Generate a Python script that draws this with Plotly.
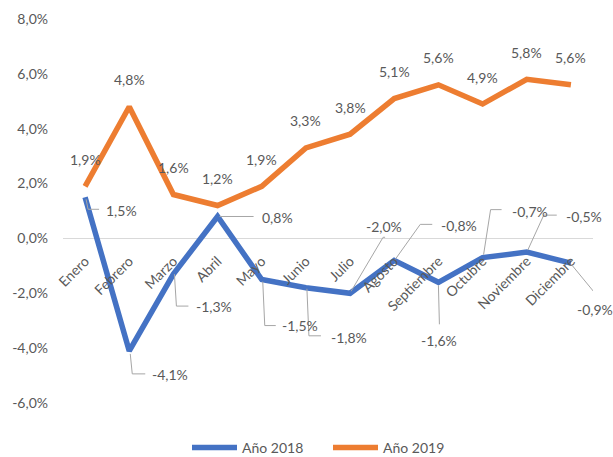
import plotly.graph_objects as go

months = ["Enero", "Febrero", "Marzo", "Abril", "Mayo", "Junio", "Julio",
          "Agosto", "Septiembre", "Octubre", "Noviembre", "Diciembre"]
y2018 = [1.5, -4.1, -1.3, 0.8, -1.5, -1.8, -2.0, -0.8, -1.6, -0.7, -0.5, -0.9]
y2019 = [1.9, 4.8, 1.6, 1.2, 1.9, 3.3, 3.8, 5.1, 5.6, 4.9, 5.8, 5.6]
ytick_vals = [-6, -4, -2, 0, 2, 4, 6, 8]

# style: label offsets (screen px, y down) and leader line paths for 2018 labels
lab18_off = [(36, 13), (41, 24), (41, 32), (60, 1), (38, 46), (43, 50),
             (34, -67), (65, -35), (1, 58), (47, -46), (57, -36), (24, 46)]
lead18 = [[(1, 2), (3, 12), (14, 12)],
          [(1, 3), (3, 23), (16, 23)],
          [(1, 0), (3, 32), (15, 32)],
          [(2, 0), (36, 0)],
          [(1, 2), (3, 46), (14, 46)],
          [(1, 1), (3, 48), (15, 48)],
          [(1, -2), (33, -56), (35, -56)],
          [(1, -1), (26, -36), (38, -36)],
          [(0, 3), (1, 42)],
          [(1, -3), (8, -48), (19, -48)],
          [(1, -2), (17, -37), (30, -37)],
          [(1, 2), (24, 30)]]

BLUE = "#4472C4"
ORANGE = "#ED7D31"
TXT = "#595959"
FONT = "Lato"
FS = 14
ymin, ymax = -6, 8
xs = list(range(len(months)))

def fmt(v):
    return f"{v:.1f}%".replace(".", ",")

fig = go.Figure()
fig.add_trace(go.Scatter(x=xs, y=y2018, mode="lines", name="Año 2018",
                         line=dict(color=BLUE, width=5.5)))
fig.add_trace(go.Scatter(x=xs, y=y2019, mode="lines", name="Año 2019",
                         line=dict(color=ORANGE, width=5.5)))

annotations = []
shapes = []
for i, v in enumerate(y2019):
    annotations.append(dict(x=i, y=v, xref="x", yref="y", text=fmt(v), showarrow=False,
                            yshift=27, font=dict(family=FONT, size=FS, color=TXT)))
for i, v in enumerate(y2018):
    dx, dy = lab18_off[i]
    annotations.append(dict(x=i, y=v, xref="x", yref="y", text=fmt(v), showarrow=False,
                            xshift=dx, yshift=-dy, font=dict(family=FONT, size=FS, color=TXT)))
    pts = lead18[i]
    path = "M " + " L ".join(f"{px} {-py}" for px, py in pts)
    shapes.append(dict(type="path", xref="x", yref="y", xsizemode="pixel", ysizemode="pixel",
                       xanchor=i, yanchor=v, path=path,
                       line=dict(color="#A6A6A6", width=1)))

fig.update_layout(
    width=613, height=457,
    margin=dict(l=63, r=20, t=19, b=54, autoexpand=False),
    paper_bgcolor="white", plot_bgcolor="white",
    font=dict(family=FONT, size=FS, color=TXT),
    showlegend=True,
    legend=dict(orientation="h", x=0.5, xanchor="center", y=-0.117, yanchor="middle",
                itemwidth=45, entrywidth=81, entrywidthmode="pixels",
                font=dict(family=FONT, size=FS, color=TXT)),
    annotations=annotations,
    shapes=shapes,
    xaxis=dict(range=[-0.5, 11.5], tickvals=xs, ticktext=months, tickangle=-45,
               anchor="free", position=(0 - ymin) / (ymax - ymin),
               showline=False, showgrid=False, zeroline=False, ticks="",
               ticklabelstandoff=11, automargin=False,
               tickfont=dict(family=FONT, size=FS, color=TXT)),
    yaxis=dict(range=[ymin, ymax], tickvals=ytick_vals,
               ticktext=[fmt(v) for v in ytick_vals],
               showgrid=False, zeroline=True, zerolinecolor="#D9D9D9", zerolinewidth=1,
               showline=False, ticks="", ticklabelstandoff=14, automargin=False,
               tickfont=dict(family=FONT, size=FS, color=TXT)),
)

fig.write_html("out.html", config={"displayModeBar": False},
               post_script="document.body.style.margin='0';")
